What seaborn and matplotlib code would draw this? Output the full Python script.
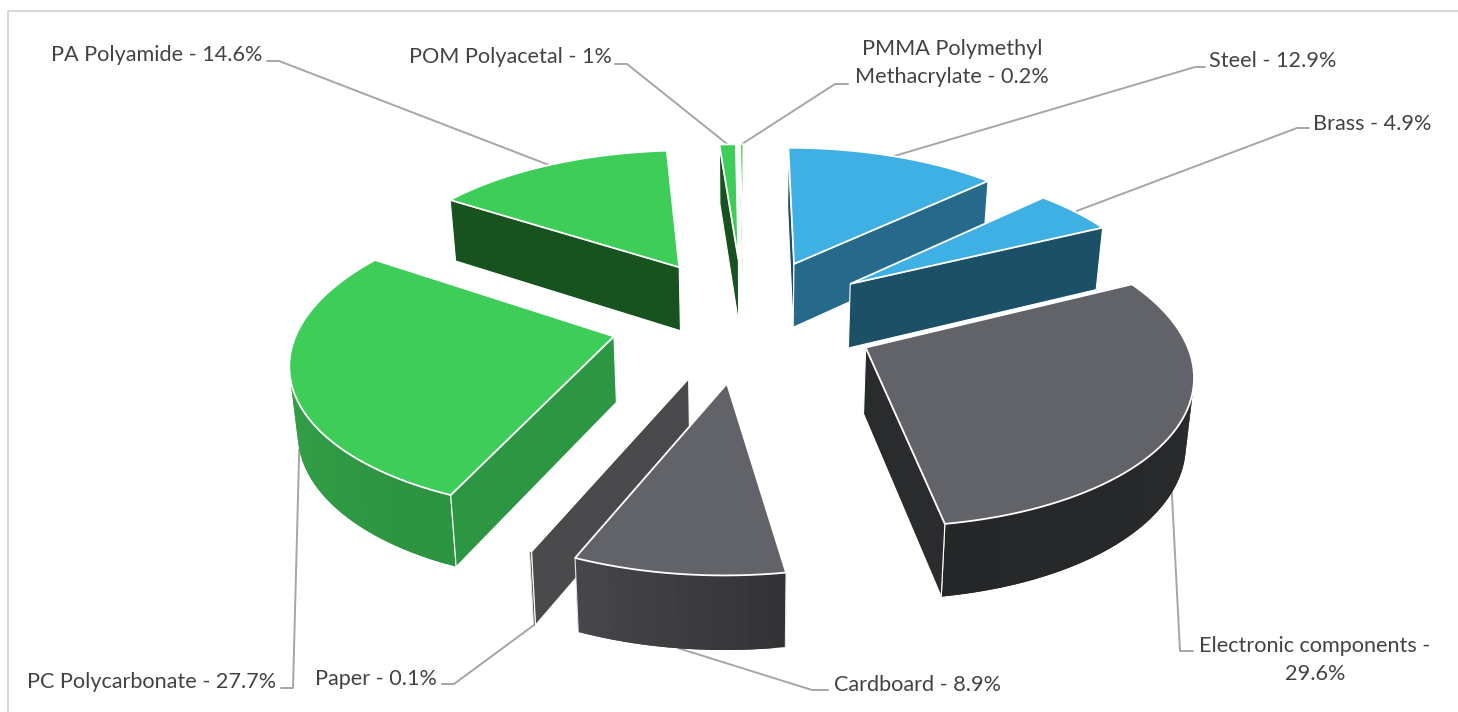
import numpy as np
import seaborn as sns
import matplotlib
matplotlib.use("Agg")
import matplotlib.pyplot as plt
from matplotlib.patches import Polygon

# 1. Data
LABELS = ["Steel", "Brass", "Electronic components", "Cardboard", "Paper",
          "PC Polycarbonate", "PA Polyamide", "POM Polyacetal",
          "PMMA Polymethyl Methacrylate"]
VALUES = [12.9, 4.9, 29.6, 8.9, 0.1, 27.7, 14.6, 1, 0.2]

# 2. Styling, one entry per slice
TOP_COLORS = ["#3eb0e4", "#3eb0e4", "#626368", "#626368", "#626368",
              "#3dcd58", "#3dcd58", "#3dcd58", "#3dcd58"]
START_WALLS = ["#1c4f68", "#1c5066", "#2a2b2d", "#38383b", "#4a4a4c",
               "#2c9643", "#17521f", "#17521f", "#6f9f78"]
END_WALLS = ["#27698b", "#1c5066", "#2a2b2d", "#38383b", "#4a4a4c",
             "#2c9643", "#17521f", "#17521f", "#6f9f78"]
OUTER_FROM = ["#27698b", "#1c5066", "#2c2d2f", "#333336", "#4a4a4c",
              "#2c9340", "#17521f", "#17521f", "#6f9f78"]
OUTER_TO = ["#27698b", "#1c5066", "#252628", "#47474b", "#4a4a4c",
            "#3aaa50", "#17521f", "#17521f", "#6f9f78"]

# text, x, y, ha, leader start, leader elbow, anchor on top face or base
LABEL_LAYOUT = [
    ("Steel - 12.9%", 1209, 61, "left", (1205, 67), (1195, 67), "top"),
    ("Brass - 4.9%", 1313, 124, "left", (1309, 128), (1297, 128), "top"),
    ("Electronic components -\n29.6%", 1315, 660, "center", (1193, 651), (1180, 651), "base"),
    ("Cardboard - 8.9%", 834, 685, "left", (828, 690), (812, 690), "base"),
    ("Paper - 0.1%", 315, 679, "left", (442, 684), (454, 684), "base"),
    ("PC Polycarbonate - 27.7%", 27, 682, "left", (281, 688), (293, 688), "base"),
    ("PA Polyamide - 14.6%", 51, 55, "left", (267, 61), (279, 61), "top"),
    ("POM Polyacetal - 1%", 409, 57, "left", (615, 64), (627, 64), "top"),
    ("PMMA Polymethyl\nMethacrylate - 0.2%", 952, 63, "center", (848, 84), (835, 84), "top"),
]

# 3. Camera of the 3D view: plane homography, explosion and rotation
A, B, C = 322.85912, 64.07783, 743.93749
D, E, F = -12.19346, -101.46460, 318.10237
G, H = 0.01573, 0.13574
EXPLODE, ROTATION = 0.42614, 0.11837
DEPTH_W, DEPTH_0 = 38.66, 26.64
SQUEEZE, SQUEEZE_0 = -0.0183, 13.69


def project(u, v, base=False):
    w = G * u + H * v + 1
    x = (A * u + B * v + C) / w
    y = (D * u + E * v + F) / w
    if base:
        x, y = x + SQUEEZE * x + SQUEEZE_0, y + DEPTH_W / w + DEPTH_0
    return np.column_stack([x, y])


def signed_area(pts):
    x, y = pts[:, 0], pts[:, 1]
    return np.sum(x * np.roll(y, -1) - np.roll(x, -1) * y)


sns.set_theme(style="white")
plt.rcParams["font.family"] = ["Lato", "DejaVu Sans"]

fig = plt.figure(figsize=(14.58, 7.12), dpi=100)
ax = fig.add_axes([0, 0, 1, 1])
ax.set_xlim(0, 1458)
ax.set_ylim(712, 0)
ax.axis("off")

# chart frame, open on the right
ax.plot([8.5, 8.5, 1458], [712, 10.5, 10.5], color="#d9d9d9", lw=1.5, zorder=0)

values = np.array(VALUES, dtype=float)
cuts = 2 * np.pi * np.cumsum(np.r_[0, values]) / values.sum() + ROTATION
mids = (cuts[:-1] + cuts[1:]) / 2
off_u, off_v = EXPLODE * np.sin(mids), EXPLODE * np.cos(mids)
order = np.argsort(-off_v)

z = 2
for i in order:
    t = np.linspace(cuts[i], cuts[i + 1], max(3, int(values[i] * 2) + 2))
    u = off_u[i] + np.sin(t)
    v = off_v[i] + np.cos(t)
    top_arc = project(u, v)
    base_arc = project(u, v, base=True)
    apex = project(off_u[i:i + 1], off_v[i:i + 1])[0]
    apex_b = project(off_u[i:i + 1], off_v[i:i + 1], base=True)[0]

    # curved outer face with a shade running along it, each piece lapping the next
    n = len(t) - 1
    shades = sns.blend_palette([OUTER_FROM[i], OUTER_TO[i]], n)
    for k in range(n):
        j = min(k + 2, n)
        quad = np.array([top_arc[k], top_arc[j], base_arc[j], base_arc[k]])
        if signed_area(quad) < 0:
            ax.add_patch(Polygon(quad, fc=shades[k], ec="none", zorder=z))
    for end in (0, n):
        pair = np.array([top_arc[end], base_arc[end]])
        near = np.array([top_arc[min(end, n - 1)], top_arc[min(end, n - 1) + 1],
                         base_arc[min(end, n - 1) + 1], base_arc[min(end, n - 1)]])
        if signed_area(near) < 0:
            ax.plot(pair[:, 0], pair[:, 1], color="#e8e8e8", lw=0.8, zorder=z)
    z += 1

    # radial walls, only those that face the viewer
    start_wall = np.array([apex, top_arc[0], base_arc[0], apex_b])
    end_wall = np.array([apex, top_arc[-1], base_arc[-1], apex_b])
    if signed_area(start_wall) < 0:
        ax.add_patch(Polygon(start_wall, fc=START_WALLS[i], ec="white", lw=0.8, zorder=z))
    if signed_area(end_wall) > 0:
        ax.add_patch(Polygon(end_wall, fc=END_WALLS[i], ec="white", lw=0.8, zorder=z))
    z += 1

    top = np.vstack([apex, top_arc])
    ax.add_patch(Polygon(top, fc=TOP_COLORS[i], ec="white", lw=1.3, zorder=z))
    z += 1

    # label and leader line
    text, tx, ty, ha, lead, elbow, where = LABEL_LAYOUT[i]
    mid_u = off_u[i] + np.sin(mids[i:i + 1])
    mid_v = off_v[i] + np.cos(mids[i:i + 1])
    anchor = project(mid_u, mid_v, base=where == "base")[0]
    ax.plot([lead[0], elbow[0], anchor[0]], [lead[1], elbow[1], anchor[1]],
            color="#a6a6a6", lw=1.4, zorder=1)
    ax.text(tx, ty, text, ha=ha, va="center", multialignment="center",
            fontsize=15.6, color="#434343", linespacing=1.47, zorder=50)

fig.savefig("out.png", dpi=100)
